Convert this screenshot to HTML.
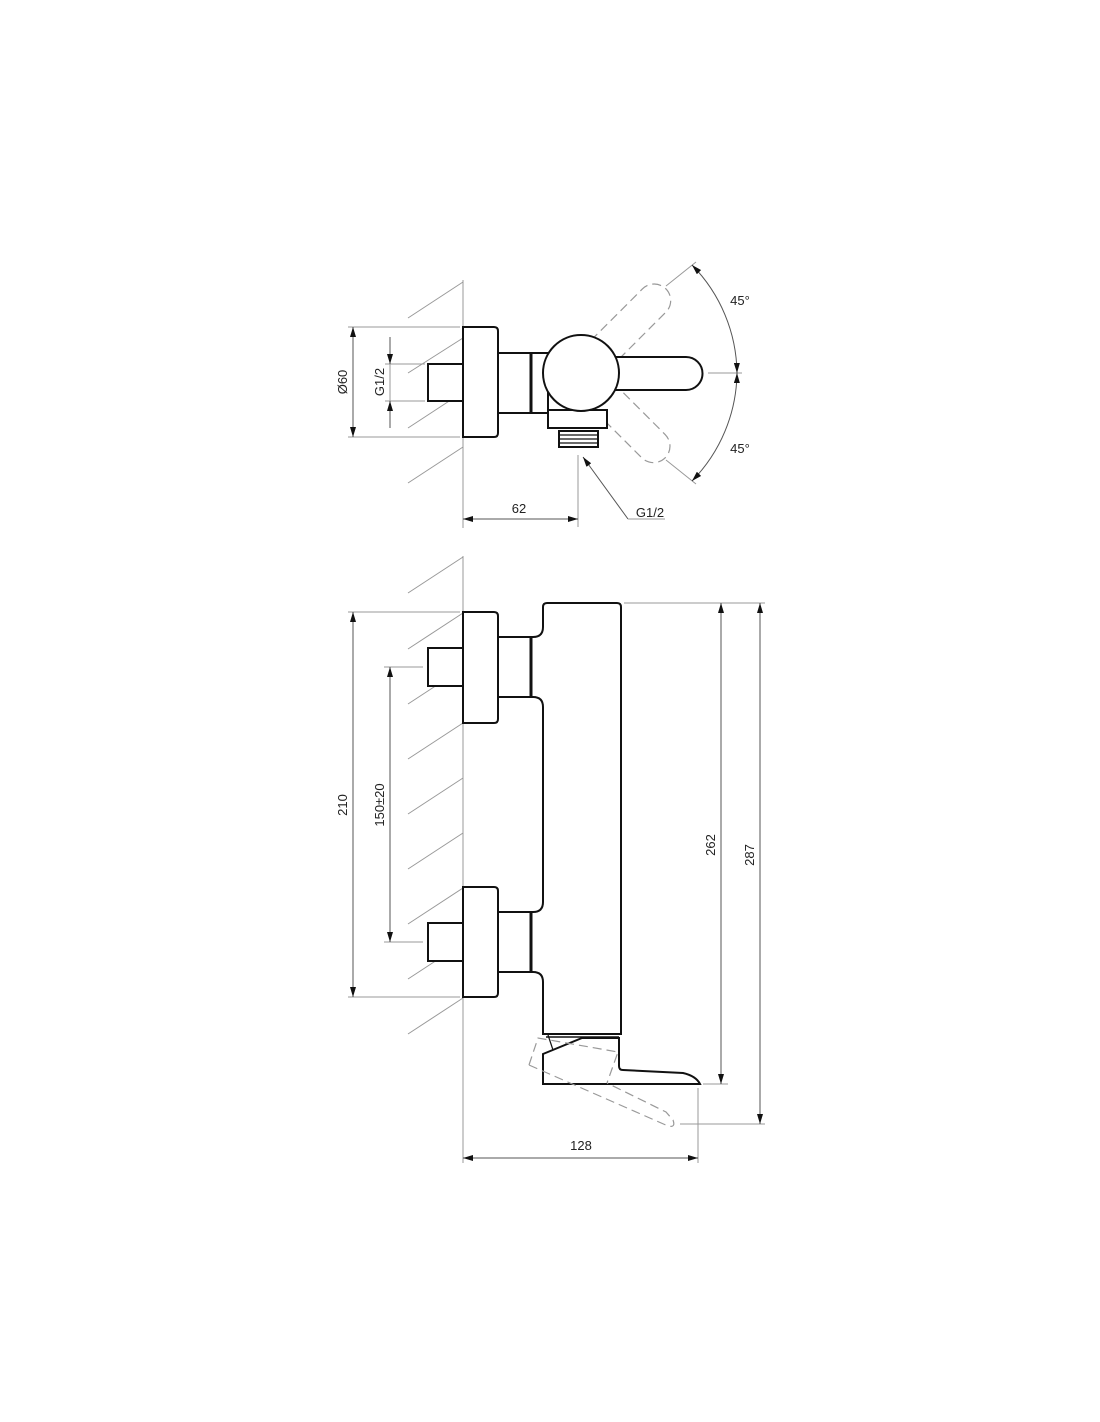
<!DOCTYPE html>
<html><head><meta charset="utf-8"><style>
html,body{margin:0;padding:0;background:#fff;width:1100px;height:1422px;overflow:hidden}
svg{display:block}
text{font-family:"Liberation Sans",Arial,sans-serif;font-size:13px;fill:#222}
</style></head><body>
<svg width="1100" height="1422" viewBox="0 0 1100 1422" xmlns="http://www.w3.org/2000/svg">
<defs>
<marker id="a" viewBox="0 0 10 6" refX="10" refY="3" markerWidth="10" markerHeight="6" orient="auto-start-reverse" markerUnits="userSpaceOnUse"><path d="M0,0 L10,3 L0,6z" fill="#111"/></marker>
</defs>
<g stroke="#999" stroke-width="1" fill="none">
<line x1="463" y1="280" x2="463" y2="522"/>
<line x1="408" y1="318" x2="463" y2="282"/>
<line x1="408" y1="373" x2="463" y2="338"/>
<line x1="408" y1="428" x2="463" y2="392"/>
<line x1="408" y1="483" x2="463" y2="447"/>
<line x1="463" y1="556" x2="463" y2="1130"/>
<line x1="408" y1="593" x2="463" y2="557"/>
<line x1="408" y1="649" x2="463" y2="613"/>
<line x1="408" y1="704" x2="463" y2="668"/>
<line x1="408" y1="759" x2="463" y2="723"/>
<line x1="408" y1="814" x2="463" y2="778"/>
<line x1="408" y1="869" x2="463" y2="833"/>
<line x1="408" y1="924" x2="463" y2="888"/>
<line x1="408" y1="979" x2="463" y2="943"/>
<line x1="408" y1="1034" x2="463" y2="998"/>
<line x1="348" y1="327" x2="460" y2="327"/><line x1="348" y1="437" x2="460" y2="437"/>
<line x1="353" y1="327" x2="353" y2="437" stroke="#555" marker-start="url(#a)" marker-end="url(#a)"/>
<line x1="385" y1="364" x2="425" y2="364"/><line x1="385" y1="401" x2="425" y2="401"/>
<line x1="390" y1="337" x2="390" y2="364" stroke="#555" marker-end="url(#a)"/>
<line x1="390" y1="428" x2="390" y2="401" stroke="#555" marker-end="url(#a)"/>
<line x1="390" y1="364" x2="390" y2="401"/>
<line x1="463" y1="522" x2="463" y2="528"/>
<line x1="578" y1="455" x2="578" y2="527"/>
<line x1="463" y1="519" x2="578" y2="519" stroke="#555" marker-start="url(#a)" marker-end="url(#a)"/>
<line x1="628" y1="519" x2="583" y2="457" stroke="#555" marker-end="url(#a)"/>
<line x1="628" y1="519" x2="665" y2="519"/>
<line x1="708" y1="373" x2="742" y2="373"/>
<line x1="666" y1="286" x2="696" y2="262"/>
<line x1="666" y1="460" x2="696" y2="484"/>
<path d="M692,265 A157,157 0 0 1 737,373" stroke="#555" marker-start="url(#a)" marker-end="url(#a)"/>
<path d="M737,373 A157,157 0 0 1 692,481" stroke="#555" marker-start="url(#a)" marker-end="url(#a)"/>
<line x1="348" y1="612" x2="460" y2="612"/><line x1="348" y1="997" x2="460" y2="997"/>
<line x1="353" y1="612" x2="353" y2="997" stroke="#555" marker-start="url(#a)" marker-end="url(#a)"/>
<line x1="384" y1="667" x2="423" y2="667"/><line x1="384" y1="942" x2="423" y2="942"/>
<line x1="390" y1="667" x2="390" y2="942" stroke="#555" marker-start="url(#a)" marker-end="url(#a)"/>
<line x1="624" y1="603" x2="765" y2="603"/>
<line x1="703" y1="1084" x2="728" y2="1084"/>
<line x1="680" y1="1124" x2="765" y2="1124"/>
<line x1="721" y1="603" x2="721" y2="1084" stroke="#555" marker-start="url(#a)" marker-end="url(#a)"/>
<line x1="760" y1="603" x2="760" y2="1124" stroke="#555" marker-start="url(#a)" marker-end="url(#a)"/>
<line x1="463" y1="1130" x2="463" y2="1163"/>
<line x1="698" y1="1088" x2="698" y2="1163"/>
<line x1="463" y1="1158" x2="698" y2="1158" stroke="#555" marker-start="url(#a)" marker-end="url(#a)"/>
</g>
<g stroke="#999" stroke-width="1.2" fill="none" stroke-dasharray="9,5">
<g transform="translate(581,373) rotate(-45)"><path d="M30,-16 L103,-16 A16.5,16.5 0 0 1 103,17 L30,17"/></g>
<g transform="translate(581,373) rotate(45)"><path d="M30,-16 L103,-16 A16.5,16.5 0 0 1 103,17 L30,17"/></g>
</g>
<g stroke="#111" stroke-width="2" fill="#fff">
<rect x="428" y="364" width="35" height="37"/>
<path d="M463,327 L494,327 Q498,327 498,331 L498,433 Q498,437 494,437 L463,437 Z"/>
<rect x="498" y="353" width="50" height="60"/>
<line x1="531" y1="353" x2="531" y2="413" stroke-width="3"/>
<rect x="548" y="410" width="59" height="18"/>
<rect x="559" y="431" width="39" height="16" fill="#fff"/>
<path d="M600,357 L686,357 A16.5,16.5 0 0 1 686,390 L600,390"/>
<circle cx="581" cy="373" r="38"/>
</g>
<g stroke="#111" stroke-width="1.2"><line x1="560" y1="435" x2="597" y2="435"/><line x1="560" y1="439" x2="597" y2="439"/><line x1="560" y1="443" x2="597" y2="443"/></g>
<g stroke="#111" stroke-width="2" fill="#fff">
<rect x="428" y="648" width="35" height="38"/>
<rect x="428" y="923" width="35" height="38"/>
<rect x="498" y="637" width="33" height="60"/>
<rect x="498" y="912" width="33" height="60"/>
<path d="M463,612 L494,612 Q498,612 498,616 L498,719 Q498,723 494,723 L463,723 Z"/>
<path d="M463,887 L494,887 Q498,887 498,891 L498,993 Q498,997 494,997 L463,997 Z"/>
<path d="M547,603 L617,603 Q621,603 621,607 L621,1034 L543,1034 L543,982 Q543,972 533,972 L531,972 L531,912 L533,912 Q543,912 543,902 L543,707 Q543,697 533,697 L531,697 L531,637 L533,637 Q543,637 543,627 L543,607 Q543,603 547,603 Z"/>
<line x1="531" y1="637" x2="531" y2="697" stroke-width="3"/>
<line x1="531" y1="912" x2="531" y2="972" stroke-width="3"/>
<line x1="546" y1="1037" x2="619" y2="1037" stroke-width="1.5"/>
<path d="M548,1035 Q551,1044 553,1050" fill="none" stroke-width="1.2"/>
<path d="M543,1054 L582,1038 L619,1038 L619,1066 Q619,1070 623,1070 L683,1073 Q696,1076 700,1084 L543,1084 Z"/>
</g>
<g stroke="#999" stroke-width="1.2" fill="none" stroke-dasharray="9,5">
<path d="M529,1065 L538,1038 L618,1052 L607,1083 M529,1065 L668,1126 Q676,1128 673,1120 L666,1112 L607,1083"/>
</g>
<text x="740" y="305" text-anchor="middle" font-size="14">45°</text>
<text x="740" y="453" text-anchor="middle" font-size="14">45°</text>
<text x="519" y="513" text-anchor="middle" font-size="14">62</text>
<text x="650" y="517" text-anchor="middle" font-size="14">G1/2</text>
<text transform="translate(347,382) rotate(-90)" text-anchor="middle" font-size="14">Ø60</text>
<text transform="translate(384,382) rotate(-90)" text-anchor="middle" font-size="14">G1/2</text>
<text transform="translate(347,805) rotate(-90)" text-anchor="middle" font-size="14">210</text>
<text transform="translate(384,805) rotate(-90)" text-anchor="middle" font-size="14">150±20</text>
<text transform="translate(715,845) rotate(-90)" text-anchor="middle" font-size="14">262</text>
<text transform="translate(754,855) rotate(-90)" text-anchor="middle" font-size="14">287</text>
<text x="581" y="1150" text-anchor="middle" font-size="14">128</text>
</svg>
</body></html>
